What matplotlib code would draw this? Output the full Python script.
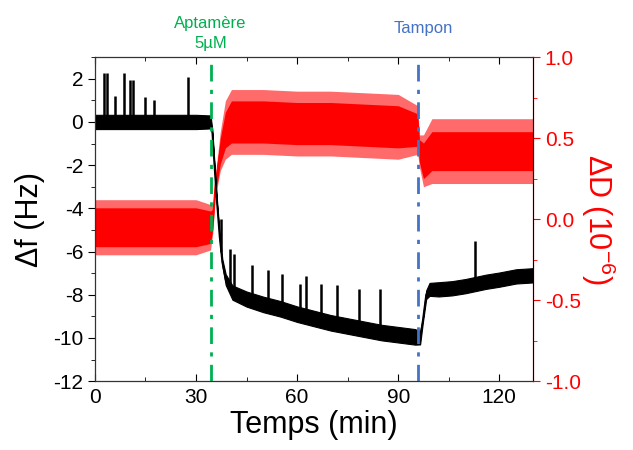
import numpy as np
import matplotlib.pyplot as plt
from matplotlib.ticker import MultipleLocator
from matplotlib.transforms import blended_transform_factory

plt.rcParams['font.family'] = ['Liberation Sans', 'DejaVu Sans']
plt.rcParams['mathtext.default'] = 'regular'

# frequency shift (Hz) : time anchors, centre of the noisy trace, half width of the noise band
t_f = [0, 10, 20, 30, 34.3, 34.8, 35.5, 36.2, 37.0, 37.8, 38.8, 40.8, 45, 50, 55, 60, 65, 70,
       75, 80, 85, 90, 95, 96.5, 97.3, 98.3, 99.3, 102, 106, 110, 116, 120, 125, 130]
f_mid = [0.0, 0.0, 0.0, 0.0, 0.0, -0.4, -2.1, -3.7, -5.3, -6.5, -7.3, -7.9, -8.2, -8.45, -8.65,
         -8.9, -9.1, -9.3, -9.45, -9.6, -9.75, -9.85, -9.95, -10.0, -9.2, -8.0, -7.75, -7.75,
         -7.7, -7.6, -7.4, -7.3, -7.15, -7.1]
f_half = [0.33, 0.33, 0.33, 0.33, 0.3, 0.1, 0.1, 0.1, 0.1, 0.15, 0.25, 0.33, 0.35, 0.36, 0.36,
          0.36, 0.36, 0.36, 0.36, 0.36, 0.36, 0.36, 0.36, 0.3, 0.1, 0.2, 0.3, 0.33, 0.33, 0.33,
          0.33, 0.33, 0.33, 0.33]

# spikes on the frequency trace
spike_t = [2.7, 3.7, 6.0, 8.7, 10.4, 11.2, 15.0, 17.5, 27.6, 37.5, 40.2, 41.2, 46.5, 51.4,
           55.4, 61.0, 62.7, 67.0, 71.9, 78.4, 84.5, 112.8]
spike_base = [0.0, 0.0, 0.0, 0.0, 0.0, 0.0, 0.0, 0.0, 0.0, -6.0, -7.7, -7.8, -8.2, -8.45,
              -8.6, -8.9, -9.0, -9.15, -9.35, -9.55, -9.7, -7.5]
spike_top = [2.25, 2.25, 1.2, 2.25, 1.95, 1.95, 1.15, 1.0, 2.1, -4.5, -5.9, -6.1, -6.6, -6.85,
             -7.05, -7.5, -7.15, -7.5, -7.55, -7.75, -7.75, -5.5]

# dissipation (1e-6) : time anchors, centre, core half width, outer half width
t_d = [0, 10, 20, 30, 34.3, 35.0, 35.7, 37.2, 38.7, 40.5, 50, 60, 70, 80, 90, 95.8, 96.3,
       97.5, 100, 110, 120, 130]
d_mid = [-0.05, -0.05, -0.05, -0.05, -0.05, 0.0, 0.2, 0.42, 0.55, 0.6, 0.6, 0.59, 0.59,
         0.58, 0.57, 0.55, 0.42, 0.36, 0.42, 0.42, 0.42, 0.42]
d_core = [0.12, 0.12, 0.12, 0.12, 0.1, 0.06, 0.05, 0.08, 0.11, 0.13, 0.13, 0.13, 0.13, 0.13,
          0.13, 0.1, 0.07, 0.11, 0.12, 0.12, 0.12, 0.12]
d_outer = [0.17, 0.17, 0.17, 0.17, 0.14, 0.08, 0.07, 0.12, 0.18, 0.2, 0.2, 0.2, 0.2, 0.2, 0.2,
           0.15, 0.1, 0.16, 0.2, 0.2, 0.2, 0.2]

t_aptamer = 34.3
t_buffer = 96.0

t_f, f_mid, f_half = np.array(t_f), np.array(f_mid), np.array(f_half)
t_d, d_mid = np.array(t_d), np.array(d_mid)
d_core, d_outer = np.array(d_core), np.array(d_outer)

fig = plt.figure(figsize=(6.33, 4.5), dpi=100)
ax = fig.add_axes([0.150, 0.153, 0.692, 0.72])
ax2 = ax.twinx()
ax.set_zorder(ax2.get_zorder() + 1)
ax.patch.set_visible(False)

# red dissipation trace
ax2.fill_between(t_d, d_mid - d_outer, d_mid + d_outer, color='#ff6a6a', lw=0)
ax2.fill_between(t_d, d_mid - d_core, d_mid + d_core, color='#ff0000', lw=0)
ax2.plot(t_d, d_mid, color='#ff0000', lw=1.2)

# black frequency trace
ax.fill_between(t_f, f_mid - f_half, f_mid + f_half, color='black', lw=0.8, edgecolor='black')
ax.plot(t_f, f_mid, color='black', lw=1.3)
ax.vlines(spike_t, spike_base, spike_top, color='black', lw=1.8)

# injections
ax.axvline(t_aptamer, color='#00b050', lw=2, ls=(0, (6, 3, 1.5, 3)))
ax.axvline(t_buffer, color='#4472c4', lw=2, ls=(0, (6, 3, 1.5, 3)))
trans = blended_transform_factory(ax.transData, ax.transAxes)
ax.text(t_aptamer, 1.02, 'Aptamère\n5µM', transform=trans, ha='center', va='bottom',
        color='#00b050', fontsize=12, linespacing=1.35)
ax.text(t_buffer + 1.5, 1.065, 'Tampon', transform=trans, ha='center', va='bottom',
        color='#4472c4', fontsize=12)

ax.set_xlim(0, 130)
ax.set_ylim(-12, 3)
ax2.set_ylim(-1, 1)

ax.xaxis.set_major_locator(MultipleLocator(30))
ax.xaxis.set_minor_locator(MultipleLocator(15))
ax.yaxis.set_major_locator(MultipleLocator(2))
ax.yaxis.set_minor_locator(MultipleLocator(1))
ax2.yaxis.set_major_locator(MultipleLocator(0.5))
ax2.yaxis.set_minor_locator(MultipleLocator(0.25))

ax.tick_params(axis='x', which='both', direction='in', top=True, labelsize=15, pad=5)
ax.tick_params(axis='x', which='major', length=5)
ax.tick_params(axis='x', which='minor', length=3)
ax.tick_params(axis='y', which='major', direction='out', length=5, labelsize=15)
ax.tick_params(axis='y', which='minor', direction='out', length=3)
ax2.tick_params(axis='y', which='major', direction='out', length=5, labelsize=15,
                colors='#ff0000')
ax2.tick_params(axis='y', which='minor', direction='out', length=3, colors='#ff0000')
ax2.spines['right'].set_color('#ff0000')
for s in ['left', 'top', 'bottom']:
    ax.spines[s].set_color('#333333')

ax.set_xlabel('Temps (min)', fontsize=22, labelpad=2)
ax.set_ylabel('Δf (Hz)', fontsize=22, labelpad=6)
ax2.set_ylabel('ΔD (10$^{-6}$)', fontsize=22, color='#ff0000', rotation=270, labelpad=26)

ax.yaxis.set_major_formatter(plt.FuncFormatter(lambda v, p: '%d' % v))
ax2.yaxis.set_major_formatter(plt.FuncFormatter(lambda v, p: '%.1f' % v))

plt.savefig('out.png', dpi=100)
